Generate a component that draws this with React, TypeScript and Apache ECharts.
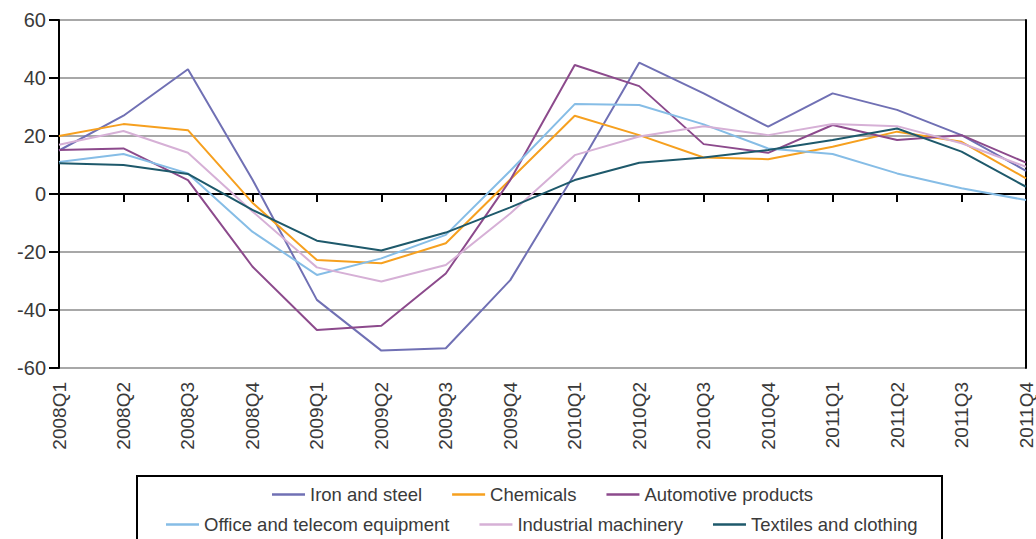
import React, { useEffect, useRef } from "react";
import * as echarts from "echarts";

const categories = [
  "2008Q1", "2008Q2", "2008Q3", "2008Q4",
  "2009Q1", "2009Q2", "2009Q3", "2009Q4",
  "2010Q1", "2010Q2", "2010Q3", "2010Q4",
  "2011Q1", "2011Q2", "2011Q3", "2011Q4",
];

const ironAndSteel = [15, 27, 43, 5, -36.5, -54, -53.2, -29.7, 7, 45.3, 34.7, 23.2, 34.7, 29, 20.3, 8];
const chemicals = [20, 24.1, 22, -3, -22.8, -23.9, -17, 5, 27, 20.3, 12.6, 12, 16.3, 21.5, 18, 5.4];
const automotive = [15.2, 15.7, 4.8, -25, -46.9, -45.4, -27.4, 4.8, 44.5, 37.2, 17.2, 14.2, 23.8, 18.6, 20.3, 10.8];
const officeTelecom = [11, 13.8, 7.1, -13, -27.9, -22.2, -14.1, 8, 31, 30.7, 24, 15.7, 13.8, 7.1, 2, -2.1];
const industrialMachinery = [17, 21.7, 14.2, -6, -25.3, -30.2, -24.5, -6.7, 13.4, 19.8, 23.4, 20.3, 24.1, 23.4, 17.5, 9.4];
const textiles = [10.6, 10, 6.9, -5.5, -16.1, -19.5, -13.3, -4.6, 4.8, 10.8, 12.6, 15.2, 18.6, 22.6, 14.6, 2.5];

const yTicks = [-60, -40, -20, 0, 20, 40, 60];

const seriesDefs = [
  { name: "Iron and steel", data: ironAndSteel, color: "#7070B4" },
  { name: "Chemicals", data: chemicals, color: "#F6A01F" },
  { name: "Automotive products", data: automotive, color: "#8C4A8C" },
  { name: "Office and telecom equipment", data: officeTelecom, color: "#86BDE6" },
  { name: "Industrial machinery", data: industrialMachinery, color: "#D6B0D6" },
  { name: "Textiles and clothing", data: textiles, color: "#1E596B" },
];

const FONT = "'Liberation Sans', Arial, sans-serif";
const TEXT_COLOR = "#3a3a3a";

export default function App() {
  const ref = useRef<HTMLDivElement>(null);

  useEffect(() => {
    document.body.style.margin = "0";
    if (!ref.current) return;
    const chart = echarts.init(ref.current, undefined, { renderer: "svg" });
    const legendCommon = {
      orient: "horizontal" as const,
      icon: "rect",
      itemWidth: 33,
      itemHeight: 2.5,
      itemGap: 30,
      textStyle: { fontFamily: FONT, fontSize: 18.5, color: TEXT_COLOR },
      padding: 0,
    };
    chart.setOption({
      animation: false,
      backgroundColor: "#ffffff",
      grid: { left: 59, right: 10, top: 20, bottom: 171, containLabel: false },
      legend: [
        {
          ...legendCommon,
          left: 272,
          top: 485,
          data: seriesDefs.slice(0, 3).map((s) => s.name),
        },
        {
          ...legendCommon,
          left: 166,
          top: 515,
          data: seriesDefs.slice(3).map((s) => s.name),
        },
      ],
      xAxis: [
        {
          type: "category",
          data: categories,
          boundaryGap: false,
          position: "bottom",
          axisLine: { show: true, onZero: true, lineStyle: { color: "#000", width: 2 } },
          axisTick: { show: true, length: 8, lineStyle: { color: "#000", width: 2 } },
          axisLabel: { show: false },
          splitLine: { show: false },
        },
        {
          type: "category",
          data: categories,
          boundaryGap: false,
          position: "bottom",
          axisLine: { show: false, onZero: false },
          axisTick: { show: false },
          axisLabel: {
            show: true,
            rotate: 90,
            margin: 14,
            interval: 0,
            fontFamily: FONT,
            fontSize: 19,
            color: TEXT_COLOR,
          },
          splitLine: { show: false },
        },
      ],
      yAxis: [
        {
          type: "value",
          min: yTicks[0],
          max: yTicks[yTicks.length - 1],
          interval: 20,
          position: "left",
          axisLine: { show: true, onZero: false, lineStyle: { color: "#000", width: 2 } },
          axisTick: { show: true, length: 10, lineStyle: { color: "#000", width: 2 } },
          axisLabel: { margin: 13, fontFamily: FONT, fontSize: 20, color: TEXT_COLOR },
          splitLine: { show: true, lineStyle: { color: "#A8A8A8", width: 2 } },
        },
        {
          type: "value",
          min: yTicks[0],
          max: yTicks[yTicks.length - 1],
          interval: 20,
          position: "right",
          axisLine: { show: true, onZero: false, lineStyle: { color: "#000", width: 2 } },
          axisTick: { show: false },
          axisLabel: { show: false },
          splitLine: { show: false },
        },
      ],
      series: seriesDefs.map((s) => ({
        name: s.name,
        type: "line",
        data: s.data,
        xAxisIndex: 0,
        yAxisIndex: 0,
        showSymbol: false,
        symbol: "none",
        lineStyle: { color: s.color, width: 2 },
        itemStyle: { color: s.color },
        emphasis: { disabled: true },
      })),
      graphic: [
        {
          type: "rect",
          shape: { x: 137, y: 476, width: 805, height: 80 },
          style: { fill: "none", stroke: "#000", lineWidth: 2 },
          silent: true,
        },
      ],
    });
    return () => chart.dispose();
  }, []);

  return <div ref={ref} style={{ width: 1036, height: 539 }} />;
}
